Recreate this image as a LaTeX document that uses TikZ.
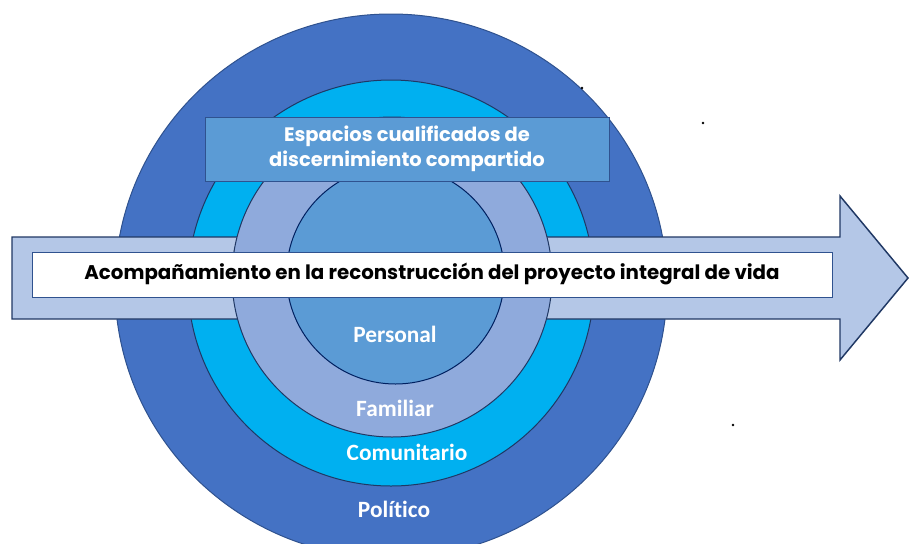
\documentclass[tikz,border=0pt]{standalone}
\usepackage{fontspec}
\setmainfont{Carlito}[Ligatures=NoCommon]
\newfontfamily\popfont{Poppins}
\tikzset{every picture/.style={line width=0.75pt}}

\begin{document}
\begin{tikzpicture}[x=0.75pt,y=0.75pt,yscale=-1,xscale=1]
%uncomment if require: \path (0,543); %set diagram left start at 0, and has height of 543
\useasboundingbox (0,0) rectangle (909,543);

%Shape: Ellipse [id:dp4418207365120917] 
\draw  [color={rgb, 255:red, 47; green, 82; blue, 143 }  ,draw opacity=1 ][fill={rgb, 255:red, 68; green, 114; blue, 196 }  ,fill opacity=1 ] (391,286) ellipse [x radius=276, y radius=272] ;
%Shape: Circle [id:dp0925513184730016] 
\draw  [color={rgb, 255:red, 31; green, 56; blue, 100 }  ,draw opacity=1 ][fill={rgb, 255:red, 0; green, 176; blue, 240 }  ,fill opacity=1 ] (391,283) circle [radius=203] ;
%Shape: Right Arrow [id:dp7730462115093854] 
\draw  [color={rgb, 255:red, 32; green, 56; blue, 100 }  ,draw opacity=1 ][fill={rgb, 255:red, 180; green, 199; blue, 231 }  ,fill opacity=1 ][line width=1.1]  (12,237) -- (840,237) -- (840,196) -- (908,278) -- (840,360) -- (840,319) -- (12,319) -- cycle ;
%Shape: Circle [id:dp2671903348511284] 
\draw  [color={rgb, 255:red, 32; green, 56; blue, 100 }  ,draw opacity=1 ][fill={rgb, 255:red, 143; green, 170; blue, 220 }  ,fill opacity=1 ] (392,277) circle [radius=160] ;
%Shape: Circle [id:dp5580213979416443] 
\draw  [color={rgb, 255:red, 0; green, 32; blue, 96 }  ,draw opacity=1 ][fill={rgb, 255:red, 91; green, 155; blue, 213 }  ,fill opacity=1 ] (395.5,275) circle [radius=109] ;
%Shape: Rectangle [id:dp8803712354921470] 
\draw  [color={rgb, 255:red, 47; green, 82; blue, 143 }  ,draw opacity=1 ][fill={rgb, 255:red, 91; green, 155; blue, 213 }  ,fill opacity=1 ] (205,117) rectangle (609,181) ;
%Shape: Rectangle [id:dp1962734015587302] 
\draw  [color={rgb, 255:red, 47; green, 82; blue, 143 }  ,draw opacity=1 ][fill={rgb, 255:red, 255; green, 255; blue, 255 }  ,fill opacity=1 ] (32,252) rectangle (832,297) ;
%Shape: Dots [id:dp3390518847725501] 
\fill (582,88) circle [radius=1.3] (703,123) circle [radius=1.3] (733,425) circle [radius=1.3] ;

% Etiquetas
\draw (407,149) node (espacios) [inner sep=0.75pt, align=center, text=white, font=\popfont\bfseries\fontsize{14.6}{18.75}\selectfont]  {Espacios cualificados de\\discernimiento compartido};
\draw (432,279) node (acompanamiento) [anchor=base, inner sep=0.75pt, font=\popfont\bfseries\fontsize{14.85}{17}\selectfont]  {Acompañamiento en la reconstrucción del proyecto integral de vida};
\draw (395,342) node (personal) [anchor=base, inner sep=0.75pt, text=white, font=\bfseries\fontsize{17.5}{21}\selectfont]  {Personal};
\draw (395,416) node (familiar) [anchor=base, inner sep=0.75pt, text=white, font=\bfseries\fontsize{17.5}{21}\selectfont]  {Familiar};
\begin{scope}
\clip (320,430) rectangle (500,459);
\draw (407,460.5) node (comunitario) [anchor=base, inner sep=0.75pt, text=white, font=\bfseries\fontsize{17.5}{21}\selectfont]  {Comunitario};
\end{scope}
\draw (394,517) node (politico) [anchor=base, inner sep=0.75pt, text=white, font=\bfseries\fontsize{17.5}{21}\selectfont]  {Político};

\end{tikzpicture}
\end{document}
